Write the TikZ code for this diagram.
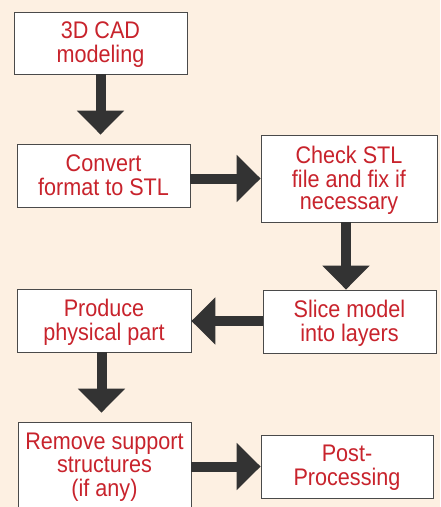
\documentclass[tikz,border=0pt]{standalone}
\usepackage{fontspec}
\setmainfont{Liberation Sans}[FakeStretch=0.9]
\usetikzlibrary{arrows.meta}
\definecolor{bgpeach}{HTML}{FDF0E2}
\definecolor{stepred}{HTML}{C8232C}
\definecolor{arrowgray}{HTML}{333333}
\definecolor{boxline}{HTML}{4A4A4A}
% centred lines; the reported extent runs from the top of the first line to
% just below the last baseline, so the block sits evenly in its box
\newcommand\stepbody[1]{%
  \raisebox{0pt}[\height][\dimexpr\depth-5pt\relax]{%
    \begin{tabular}[t]{@{}c@{}}#1\end{tabular}}}
\begin{document}
\begin{tikzpicture}[x=1pt,y=-1pt,
  stepbox/.style={draw=boxline, line width=0.8pt, fill=white, text=stepred,
    font=\fontsize{24}{22}\selectfont, inner sep=0pt},
  flow/.style={draw=arrowgray, line width=10pt,
    -{Triangle[width=46pt,length=24pt]}}]
% page background
\fill[bgpeach] (0,0) rectangle (440,507);
\useasboundingbox (0,0) rectangle (440,507);

% process steps
\node[stepbox, minimum width=173pt, minimum height=62pt] (cad) at (100.5,43)
  {\stepbody{3D CAD\\modeling}};
\node[stepbox, minimum width=173pt, minimum height=63pt] (conv) at (103.5,175.5)
  {\stepbody{Convert\\format to STL}};
\node[stepbox, minimum width=176pt, minimum height=87pt] (check) at (349,178.5)
  {\stepbody{Check STL\\file and fix if\\necessary}};
\node[stepbox, minimum width=173pt, minimum height=63pt] (slice) at (349.5,321.5)
  {\stepbody{Slice model\\into layers}};
\node[stepbox, minimum width=174pt, minimum height=63pt] (prod) at (104,320.5)
  {\stepbody{Produce\\physical part}};
\node[stepbox, minimum width=173pt, minimum height=87pt] (remove) at (104.5,465.5)
  {\stepbody{Remove support\\structures\\(if any)}};
\node[stepbox, minimum width=172pt, minimum height=63pt] (post) at (347,466.5)
  {\stepbody{Post-\\Processing}};

% flow arrows
\draw[flow, shorten >=9pt] (cad.south) -- (cad.south |- conv.north);
\draw[flow] (conv.east |- check.west) -- (check.west);
\draw[flow] (check.south -| 346,0) -- (slice.north -| 346,0);
\draw[flow] (slice.west |- 0,321) -- (prod.east |- 0,321);
\draw[flow, shorten >=9pt] (prod.south -| 101.5,0) -- (remove.north -| 101.5,0);
\draw[flow] (remove.east |- post.west) -- (post.west);
\end{tikzpicture}
\end{document}
